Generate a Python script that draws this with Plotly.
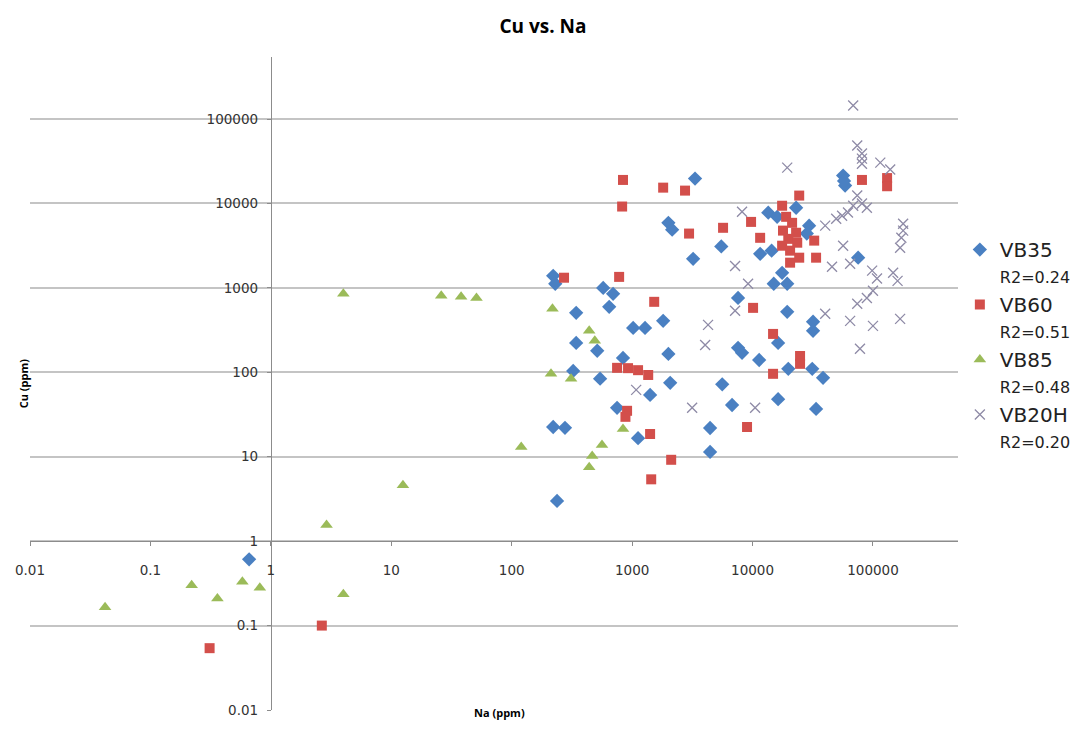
import plotly.graph_objects as go

# Na (ppm) / Cu (ppm) pairs for each sample set
vb35_na = [0.66, 3330, 2000, 2150, 3210, 5500, 221, 230, 575, 695, 645, 343, 1810, 1020, 1280,
           343, 513, 840, 2000, 324, 542, 2070, 1410, 750, 1120, 221, 277, 238, 4440, 4440,
           19400, 31800, 31800, 7580, 8180, 11350, 16300, 19800, 31300, 38500, 5600,
           6760, 16300, 33700, 56500, 58700, 57500, 13500, 23000, 16000, 29500, 28200,
           11560, 14400, 17600, 15000, 19400, 7580, 75300]
vb35_cu = [0.61, 19700, 5900, 4900, 2210, 3100, 1390, 1120, 1000, 850, 597, 507, 407, 336, 336,
           223, 180, 148, 165, 104, 84, 75, 54, 38, 16.6, 22.5, 22, 3.0, 21.9, 11.4,
           521, 397, 310, 195, 170, 140, 223, 110, 110, 86, 72,
           41, 48, 36.8, 21400, 16300, 18500, 7770, 8900, 6950, 5460, 4400,
           2530, 2760, 1510, 1120, 1120, 760, 2280]

vb60_na = [0.31, 2.65, 840, 826, 1810, 2750, 2970, 272, 780, 1525, 5690, 9720, 11560, 10100,
           750, 925, 1120, 1360, 908, 880, 1410, 2110, 1440, 81000, 131000, 131000, 24400,
           17600, 19000, 21300, 17900, 23000, 19800, 23500, 17600, 20500, 32500, 33700,
           20500, 24400, 14800, 24800, 24800, 14800, 9000]
vb60_cu = [0.054, 0.1, 19000, 9200, 15400, 14200, 4400, 1320, 1350, 684, 5150, 6050, 3920, 580,
           113, 112, 106, 93, 35, 29.7, 18.6, 9.2, 5.4, 19000, 20000, 16000, 12400,
           9400, 6950, 5900, 4770, 4500, 3810, 3430, 3160, 2760, 3630, 2280,
           1990, 2280, 285, 156, 126, 96, 22.5]

vb85_na = [0.042, 0.22, 0.36, 0.58, 0.81, 2.9, 4.0, 4.0, 12.5, 26, 38, 51, 120, 212, 218, 311,
           440, 490, 466, 440, 562, 840]
vb85_cu = [0.165, 0.30, 0.21, 0.33, 0.28, 1.55, 0.235, 850, 4.6, 805, 785, 760, 13, 96, 565, 84,
           310, 236, 10.2, 7.5, 13.8, 21.3]

vb20h_na = [68500, 74000, 81000, 81000, 81000, 115000, 139000, 19400, 74000, 81000, 89000,
            68500, 62000, 55400, 49500, 40100, 8180, 178000, 178000, 172000, 168000, 56500,
            45700, 64600, 98400, 108000, 147000, 160000, 7160, 9180, 100000, 89000, 74000,
            40100, 64600, 100000, 168000, 78000, 7160, 10500, 4270, 4040, 3150, 1080]
vb20h_cu = [145000, 48500, 39000, 34000, 29600, 30500, 25200, 26600, 12400, 10000, 8900,
            9400, 7800, 7170, 6600, 5460, 7980, 5760, 4770, 3920, 2990, 3160,
            1780, 1930, 1600, 1290, 1510, 1210, 1820, 1120, 925, 760, 650,
            494, 407, 355, 430, 190, 537, 38, 365, 211, 38, 62]

series_names = ["VB35", "VB60", "VB85", "VB20H"]
r2_labels = ["R2=0.24", "R2=0.51", "R2=0.48", "R2=0.20"]

tick_vals = [0.01, 0.1, 1, 10, 100, 1000, 10000, 100000]
tick_text = ["0.01", "0.1", "1", "10", "100", "1000", "10000", "100000"]

x_range = [-2, 5.706]
y_range = [-2, 5.735]

styles = [
    dict(symbol="diamond", color="#4a80c2", size=11, line=dict(width=0)),
    dict(symbol="square", color="#d34f4b", size=10, line=dict(width=0)),
    dict(symbol="triangle-up", color="#9bbb59", size=11, line=dict(width=0)),
    dict(symbol="x-thin", color="#8e8aa6", size=10, line=dict(width=1.3, color="#8e8aa6")),
]

fig = go.Figure()
for name, r2, xs, ys, st in zip(series_names, r2_labels,
                                [vb35_na, vb60_na, vb85_na, vb20h_na],
                                [vb35_cu, vb60_cu, vb85_cu, vb20h_cu], styles):
    fig.add_trace(go.Scatter(
        x=xs, y=ys, mode="markers", marker=st,
        name=f"{name}<br><span style='font-size:16px'>{r2}</span>",
    ))

# axes cross at x=1 and y=1
y_cross = (0 - y_range[0]) / (y_range[1] - y_range[0])
x_cross = (0 - x_range[0]) / (x_range[1] - x_range[0])

axis_font = dict(family="DejaVu Sans", size=13.5, color="#333333")

fig.update_layout(
    width=1086, height=738,
    margin=dict(l=30, r=128, t=57, b=28, autoexpand=False),
    paper_bgcolor="white", plot_bgcolor="white",
    title=dict(text="<b>Cu vs. Na</b>", x=0.5, xanchor="center", y=0.973, yref="container",
               font=dict(family="Open Sans", size=19, color="#000000")),
    xaxis=dict(type="log", range=x_range, anchor="free", position=y_cross,
               tickvals=tick_vals, ticktext=tick_text, tickfont=axis_font,
               showgrid=False, zeroline=False, showline=True, linecolor="#8c8c8c", linewidth=1,
               ticks="outside", ticklen=4, tickcolor="#8c8c8c", ticklabelstandoff=13),
    yaxis=dict(type="log", range=y_range, anchor="free", position=x_cross,
               tickvals=tick_vals, ticktext=tick_text, tickfont=axis_font,
               showgrid=True, gridcolor="#c4c4c4", gridwidth=1.5, zeroline=False,
               showline=True, linecolor="#8c8c8c", linewidth=1,
               ticks="outside", ticklen=4, tickcolor="#8c8c8c", ticklabelstandoff=6),
    legend=dict(x=1.002, y=0.735, xanchor="left", yanchor="top", valign="top",
                font=dict(family="DejaVu Sans", size=20, color="#222222"),
                tracegroupgap=20, itemwidth=30, bgcolor="rgba(0,0,0,0)"),
    annotations=[
        dict(text="<b>Cu (ppm)</b>", x=-0.017, y=0.5, xref="paper", yref="paper",
             textangle=-90, showarrow=False,
             font=dict(family="Open Sans", size=11, color="#000000")),
        dict(text="<b>Na (ppm)</b>", x=0.506, y=-0.018, xref="paper", yref="paper",
             showarrow=False, font=dict(family="Open Sans", size=11, color="#000000")),
    ],
)

fig.write_html("out.html")
